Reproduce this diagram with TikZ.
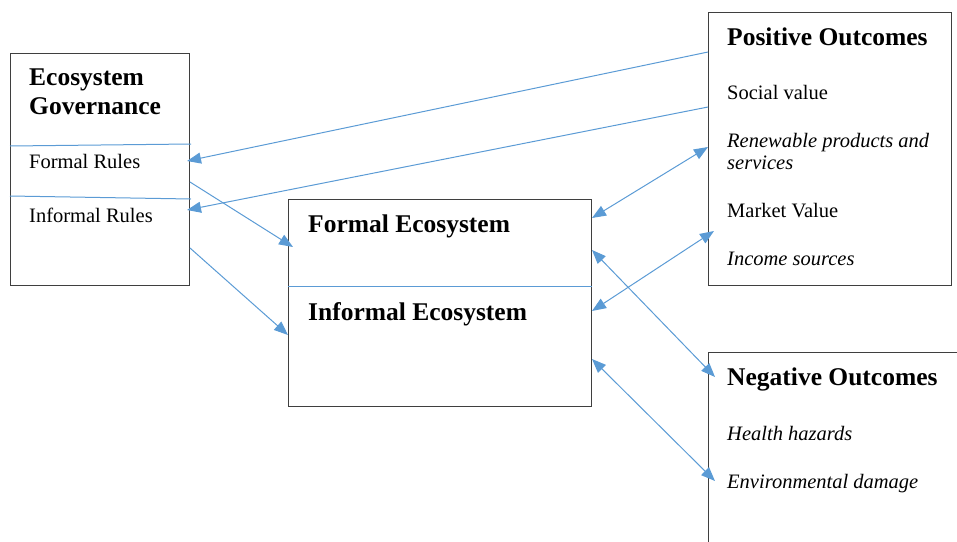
\documentclass[tikz,border=0pt]{standalone}
\usepackage{fontspec}
\setmainfont{Liberation Serif}
\usepackage{xcolor}
\usepackage{tikz}
\usetikzlibrary{positioning, arrows.meta, calc}
\definecolor{linkblue}{HTML}{5B9BD5}
\definecolor{edgegray}{HTML}{3F3F3F}

\begin{document}
\begin{tikzpicture}[x=1pt, y=-1pt, >={Triangle[length=14pt, width=11pt]},
      box/.style={draw=edgegray, line width=1pt, anchor=north west, inner sep=0pt},
      heading/.style={anchor=base west, inner sep=0pt, font=\fontsize{25.5}{28}\selectfont\bfseries},
      entry/.style={anchor=base west, inner sep=0pt, font=\fontsize{20.5}{22}\selectfont},
      divider/.style={draw=linkblue, line width=1pt},
      link/.style={draw=linkblue, line width=1pt, ->},
      twoway/.style={link, <->}]
    \useasboundingbox (0,0) rectangle (957,541);
    % boxes
    \node[box, minimum width=179pt, minimum height=232pt] (gov) at (10,53) {};
    \node[box, minimum width=303pt, minimum height=207pt] (eco) at (288,199) {};
    \node[box, minimum width=243pt, minimum height=273pt] (pos) at (708,12) {};
    \node[box, minimum width=280pt, minimum height=220pt] (neg) at (708,352) {};
    % texts
    \node[heading] (govtop) at (29,85) {Ecosystem};
    \node[heading] (govbot) at (29,114) {Governance};
    \node[entry] (frules) at (29,168) {Formal Rules};
    \node[entry] (irules) at (29,222) {Informal Rules};
    \node[heading] (feco) at (308,232) {Formal Ecosystem};
    \node[heading] (ieco) at (308,320) {Informal Ecosystem};
    \node[heading] (postitle) at (727,45) {Positive Outcomes};
    \node[entry] (social) at (727,99) {Social value};
    \node[entry] (renew) at (727,147) {\itshape Renewable products and};
    \node[entry] (serv) at (727,169) {\itshape services};
    \node[entry] (market) at (727,217) {Market Value};
    \node[entry] (income) at (727,265) {\itshape Income sources};
    \node[heading] (negtitle) at (727,385) {Negative Outcomes};
    \node[entry] (health) at (727,440) {\itshape Health hazards};
    \node[entry] (envdmg) at (727,488) {\itshape Environmental damage};
    % dividers
    \draw[divider] ($(gov.north west)+(0,93)$) -- ($(gov.north east)+(1,91)$);
    \draw[divider] ($(gov.north west)+(0,143)$) -- ($(gov.north east)+(1,146)$);
    \draw[divider] ($(eco.north west)+(0,87)$) -- ($(eco.north east)+(0,87)$);
    % connectors
    \draw[link] ($(pos.north west)+(0,40)$) -- ($(gov.north east)+(-3,108)$);
    \draw[link] ($(pos.north west)+(0,95)$) -- ($(gov.north east)+(-3,157)$);
    \draw[link] ($(gov.north east)+(0,129)$) -- ($(eco.north west)+(5,48)$);
    \draw[link] ($(gov.north east)+(0,195)$) -- ($(eco.north west)+(0,136)$);
    \draw[twoway] ($(eco.north east)+(0,19)$) -- ($(pos.north west)+(0,135)$);
    \draw[twoway] ($(eco.north east)+(0,112)$) -- ($(pos.north west)+(6,219)$);
    \draw[twoway] ($(eco.north east)+(0,51)$) -- ($(neg.north west)+(7,25)$);
    \draw[twoway] ($(eco.north east)+(0,160)$) -- ($(neg.north west)+(7,129)$);
  \end{tikzpicture}
\end{document}
